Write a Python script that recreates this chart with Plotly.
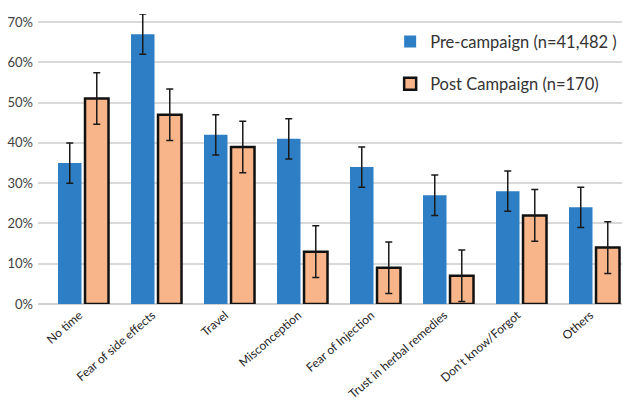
import plotly.graph_objects as go

categories = ["No time", "Fear of side effects", "Travel", "Misconception",
              "Fear of Injection", "Trust in herbal remedies", "Don\u2019t know/Forgot", "Others"]
pre_values = [0.35, 0.67, 0.42, 0.41, 0.34, 0.27, 0.28, 0.24]
pre_errors = [0.05, 0.05, 0.05, 0.05, 0.05, 0.05, 0.05, 0.05]
post_values = [0.51, 0.47, 0.39, 0.13, 0.09, 0.07, 0.22, 0.14]
post_errors = [0.064, 0.064, 0.064, 0.064, 0.064, 0.064, 0.064, 0.064]

font_family = "Lato, 'Noto Sans', sans-serif"

fig = go.Figure()
fig.add_trace(go.Bar(
    x=categories, y=pre_values, name="Pre-campaign (n=41,482 )",
    marker=dict(color="#2E7EC6", line=dict(width=0)),
    error_y=dict(type="data", array=pre_errors, color="#1a1a1a", thickness=1.5, width=3.5),
    legendgroup="a",
))
fig.add_trace(go.Bar(
    x=categories, y=post_values, name="Post Campaign (n=170)",
    marker=dict(color="#F8B58A", line=dict(width=2.5, color="#111111")),
    error_y=dict(type="data", array=post_errors, color="#1a1a1a", thickness=1.5, width=3.5),
    legendgroup="b",
))

fig.update_layout(
    width=623, height=406,
    margin=dict(l=38, r=1, t=14, b=102),
    paper_bgcolor="white", plot_bgcolor="white",
    barmode="group", bargap=0.26, bargroupgap=0.13,
    font=dict(family=font_family, color="#404040"),
    legend=dict(
        x=0.603, y=0.965, xanchor="left", yanchor="top",
        bgcolor="rgba(255,255,255,0)",
        font=dict(size=16.5, color="#333333"),
        traceorder="grouped", tracegroupgap=18,
        itemwidth=30,
    ),
    xaxis=dict(
        range=[-0.62, 7.38], automargin=False,
        tickangle=-41, tickfont=dict(size=12, color="#222222"),
        ticklabelshift=-4, ticklabelstandoff=1,
        showgrid=False, showline=False, ticks="",
    ),
    yaxis=dict(
        range=[0, 0.72], tickvals=[0, 0.1, 0.2, 0.3, 0.4, 0.5, 0.6, 0.7],
        tickformat=".0%", tickfont=dict(size=13, color="#404040"),
        showgrid=True, gridcolor="#D9D9D9", gridwidth=1.5,
        zeroline=True, zerolinecolor="#D0D0D0", zerolinewidth=2,
        ticks="", ticklabelstandoff=4, automargin=False,
    ),
)

fig.write_html("out.html")
